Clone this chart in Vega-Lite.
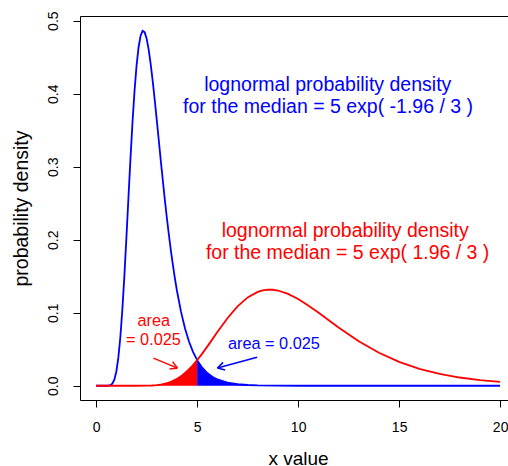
{
  "$schema": "https://vega.github.io/schema/vega-lite/v6.json",
  "width": 428,
  "height": 384,
  "autosize": {"type": "none"},
  "padding": {"left": 80, "top": 16, "right": 0, "bottom": 66},
  "background": "white",
  "config": {"view": {"stroke": "black", "strokeWidth": 1}, "font": "Liberation Sans", "text": {"font": "Liberation Sans"}},
  "datasets": {
    "curves": [
      {"x": 0, "y": 0, "curve": "low"},
      {"x": 0.5, "y": 0.00001, "curve": "low"},
      {"x": 0.6, "y": 0.00012, "curve": "low"},
      {"x": 0.7, "y": 0.00073, "curve": "low"},
      {"x": 0.8, "y": 0.00287, "curve": "low"},
      {"x": 0.9, "y": 0.00835, "curve": "low"},
      {"x": 1.0, "y": 0.01956, "curve": "low"},
      {"x": 1.1, "y": 0.03877, "curve": "low"},
      {"x": 1.2, "y": 0.06742, "curve": "low"},
      {"x": 1.3, "y": 0.10558, "curve": "low"},
      {"x": 1.4, "y": 0.15188, "curve": "low"},
      {"x": 1.5, "y": 0.20389, "curve": "low"},
      {"x": 1.6, "y": 0.25829, "curve": "low"},
      {"x": 1.7, "y": 0.31174, "curve": "low"},
      {"x": 1.8, "y": 0.36111, "curve": "low"},
      {"x": 1.9, "y": 0.4039, "curve": "low"},
      {"x": 2.0, "y": 0.4384, "curve": "low"},
      {"x": 2.1, "y": 0.46364, "curve": "low"},
      {"x": 2.2, "y": 0.47938, "curve": "low"},
      {"x": 2.3, "y": 0.48601, "curve": "low"},
      {"x": 2.4, "y": 0.4843, "curve": "low"},
      {"x": 2.5, "y": 0.47533, "curve": "low"},
      {"x": 2.6, "y": 0.46032, "curve": "low"},
      {"x": 2.7, "y": 0.44053, "curve": "low"},
      {"x": 2.8, "y": 0.41717, "curve": "low"},
      {"x": 2.9, "y": 0.39137, "curve": "low"},
      {"x": 3.0, "y": 0.3641, "curve": "low"},
      {"x": 3.1, "y": 0.33622, "curve": "low"},
      {"x": 3.2, "y": 0.30839, "curve": "low"},
      {"x": 3.3, "y": 0.28118, "curve": "low"},
      {"x": 3.4, "y": 0.255, "curve": "low"},
      {"x": 3.5, "y": 0.23013, "curve": "low"},
      {"x": 3.6, "y": 0.20679, "curve": "low"},
      {"x": 3.7, "y": 0.18509, "curve": "low"},
      {"x": 3.8, "y": 0.16508, "curve": "low"},
      {"x": 3.9, "y": 0.14676, "curve": "low"},
      {"x": 4.0, "y": 0.13011, "curve": "low"},
      {"x": 4.2, "y": 0.10149, "curve": "low"},
      {"x": 4.4, "y": 0.0785, "curve": "low"},
      {"x": 4.6, "y": 0.06032, "curve": "low"},
      {"x": 4.8, "y": 0.04608, "curve": "low"},
      {"x": 5.0, "y": 0.03506, "curve": "low"},
      {"x": 5.25, "y": 0.0248, "curve": "low"},
      {"x": 5.5, "y": 0.01747, "curve": "low"},
      {"x": 5.75, "y": 0.01228, "curve": "low"},
      {"x": 6.0, "y": 0.00861, "curve": "low"},
      {"x": 6.5, "y": 0.00423, "curve": "low"},
      {"x": 7.0, "y": 0.00208, "curve": "low"},
      {"x": 7.5, "y": 0.00103, "curve": "low"},
      {"x": 8.0, "y": 0.00051, "curve": "low"},
      {"x": 9.0, "y": 0.00013, "curve": "low"},
      {"x": 10.0, "y": 0.00003, "curve": "low"},
      {"x": 12.0, "y": 0, "curve": "low"},
      {"x": 15.0, "y": 0, "curve": "low"},
      {"x": 20.0, "y": 0, "curve": "low"},
      {"x": 0, "y": 0, "curve": "high"},
      {"x": 1.0, "y": 0, "curve": "high"},
      {"x": 2.0, "y": 0.00001, "curve": "high"},
      {"x": 2.5, "y": 0.00014, "curve": "high"},
      {"x": 2.75, "y": 0.00038, "curve": "high"},
      {"x": 3.0, "y": 0.0009, "curve": "high"},
      {"x": 3.25, "y": 0.00186, "curve": "high"},
      {"x": 3.5, "y": 0.00347, "curve": "high"},
      {"x": 3.75, "y": 0.00594, "curve": "high"},
      {"x": 4.0, "y": 0.00943, "curve": "high"},
      {"x": 4.25, "y": 0.01409, "curve": "high"},
      {"x": 4.5, "y": 0.01995, "curve": "high"},
      {"x": 4.75, "y": 0.02698, "curve": "high"},
      {"x": 5.0, "y": 0.03506, "curve": "high"},
      {"x": 5.25, "y": 0.04401, "curve": "high"},
      {"x": 5.5, "y": 0.0536, "curve": "high"},
      {"x": 5.75, "y": 0.06352, "curve": "high"},
      {"x": 6.0, "y": 0.0735, "curve": "high"},
      {"x": 6.5, "y": 0.09255, "curve": "high"},
      {"x": 7.0, "y": 0.10882, "curve": "high"},
      {"x": 7.5, "y": 0.12103, "curve": "high"},
      {"x": 8.0, "y": 0.1286, "curve": "high"},
      {"x": 8.25, "y": 0.13065, "curve": "high"},
      {"x": 8.5, "y": 0.13158, "curve": "high"},
      {"x": 8.75, "y": 0.13148, "curve": "high"},
      {"x": 9.0, "y": 0.13044, "curve": "high"},
      {"x": 9.5, "y": 0.12591, "curve": "high"},
      {"x": 10.0, "y": 0.11883, "curve": "high"},
      {"x": 10.5, "y": 0.11003, "curve": "high"},
      {"x": 11.0, "y": 0.10022, "curve": "high"},
      {"x": 11.5, "y": 0.09001, "curve": "high"},
      {"x": 12.0, "y": 0.07988, "curve": "high"},
      {"x": 13.0, "y": 0.06104, "curve": "high"},
      {"x": 14.0, "y": 0.04521, "curve": "high"},
      {"x": 15.0, "y": 0.03269, "curve": "high"},
      {"x": 16.0, "y": 0.02322, "curve": "high"},
      {"x": 17.0, "y": 0.01628, "curve": "high"},
      {"x": 18.0, "y": 0.0113, "curve": "high"},
      {"x": 19.0, "y": 0.00778, "curve": "high"},
      {"x": 20.0, "y": 0.00533, "curve": "high"}
    ],
    "notes": [
      {"x": 11.465, "y": 0.4042, "label": "lognormal probability density", "curve": "low"},
      {"x": 11.48, "y": 0.3741, "label": "for the median = 5 exp( -1.96 / 3 )", "curve": "low"},
      {"x": 12.33, "y": 0.2035, "label": "lognormal probability density", "curve": "high"},
      {"x": 12.45, "y": 0.1734, "label": "for the median = 5 exp( 1.96 / 3 )", "curve": "high"}
    ],
    "areaNotes": [
      {"x": 2.856, "y": 0.0825, "label": "area", "curve": "high"},
      {"x": 2.837, "y": 0.0552, "label": "= 0.025", "curve": "high"},
      {"x": 8.8, "y": 0.0506, "label": "area = 0.025", "curve": "low"}
    ],
    "arrows": [
      {"x": 2.837, "y": 0.0379, "x2": 4.025, "y2": 0.0242, "curve": "high"},
      {"x": 3.782, "y": 0.033, "x2": 4.025, "y2": 0.0242, "curve": "high"},
      {"x": 3.634, "y": 0.0229, "x2": 4.025, "y2": 0.0242, "curve": "high"},
      {"x": 7.97, "y": 0.039, "x2": 6.005, "y2": 0.0242, "curve": "low"},
      {"x": 6.386, "y": 0.0215, "x2": 6.005, "y2": 0.0242, "curve": "low"},
      {"x": 6.282, "y": 0.032, "x2": 6.005, "y2": 0.0242, "curve": "low"}
    ]
  },
  "encoding": {
    "x": {"field": "x", "type": "quantitative",
      "scale": {"domain": [-0.8, 20.39], "nice": false, "zero": false},
      "axis": {"orient": "bottom", "values": [0, 5, 10, 15, 20], "format": "d", "tickSize": 7, "tickColor": "black", "domain": false, "labelColor": "black", "labelFontSize": 14, "labelPadding": 13.5, "labelFont": "Liberation Sans", "labelFlush": false, "labelOverlap": false, "grid": false, "title": "x value", "titleFont": "Liberation Sans", "titleFontSize": 19, "titleFontWeight": "normal", "titleColor": "black", "titleX": 218, "titleY": 64, "titleAlign": "center", "titleBaseline": "alphabetic"}},
    "y": {"field": "y", "type": "quantitative",
      "scale": {"domain": [-0.0195, 0.5064], "nice": false, "zero": false},
      "axis": {"values": [0, 0.1, 0.2, 0.3, 0.4, 0.5], "format": ".1f", "tickSize": 7, "tickColor": "black", "domain": false, "labelColor": "black", "labelFontSize": 14, "labelFont": "Liberation Sans", "labelAngle": 270, "labelAlign": "center", "labelBaseline": "alphabetic", "labelPadding": 15.7, "labelFlush": false, "labelOverlap": false, "grid": false, "title": "probability density", "titleFont": "Liberation Sans", "titleFontSize": 19.5, "titleFontWeight": "normal", "titleColor": "black", "titleAngle": 270, "titleX": -53, "titleY": 192, "titleAlign": "center", "titleBaseline": "alphabetic"}}
  },
  "layer": [
    {
      "data": {"name": "curves"},
      "transform": [{"filter": "datum.curve == 'low'"}],
      "mark": {"type": "line", "color": "#0000FF", "strokeWidth": 1.8}
    },
    {
      "data": {"name": "curves"},
      "transform": [{"filter": "datum.curve == 'high'"}],
      "mark": {"type": "line", "color": "#FF0000", "strokeWidth": 1.8}
    },
    {
      "data": {"name": "curves"},
      "transform": [{"filter": "datum.curve == 'high' && datum.x <= 5"}],
      "mark": {"type": "area", "color": "#FF0000", "opacity": 1}
    },
    {
      "data": {"name": "curves"},
      "transform": [{"filter": "datum.curve == 'low' && datum.x >= 5 && datum.x <= 10"}],
      "mark": {"type": "area", "color": "#0000FF", "opacity": 1}
    },
    {
      "data": {"name": "arrows"},
      "mark": {"type": "rule", "strokeWidth": 1.5},
      "encoding": {
        "x2": {"field": "x2"},
        "y2": {"field": "y2"},
        "color": {"field": "curve", "type": "nominal", "legend": null,
          "scale": {"domain": ["low", "high"], "range": ["#0000FF", "#FF0000"]}}
      }
    },
    {
      "data": {"name": "notes"},
      "mark": {"type": "text", "fontSize": 19.5, "align": "center", "baseline": "alphabetic", "font": "Liberation Sans"},
      "encoding": {
        "text": {"field": "label"},
        "color": {"field": "curve", "type": "nominal", "legend": null,
          "scale": {"domain": ["low", "high"], "range": ["#0000FF", "#FF0000"]}}
      }
    },
    {
      "data": {"name": "areaNotes"},
      "mark": {"type": "text", "fontSize": 16.3, "align": "center", "baseline": "alphabetic", "font": "Liberation Sans"},
      "encoding": {
        "text": {"field": "label"},
        "color": {"field": "curve", "type": "nominal", "legend": null,
          "scale": {"domain": ["low", "high"], "range": ["#0000FF", "#FF0000"]}}
      }
    }
  ]
}
